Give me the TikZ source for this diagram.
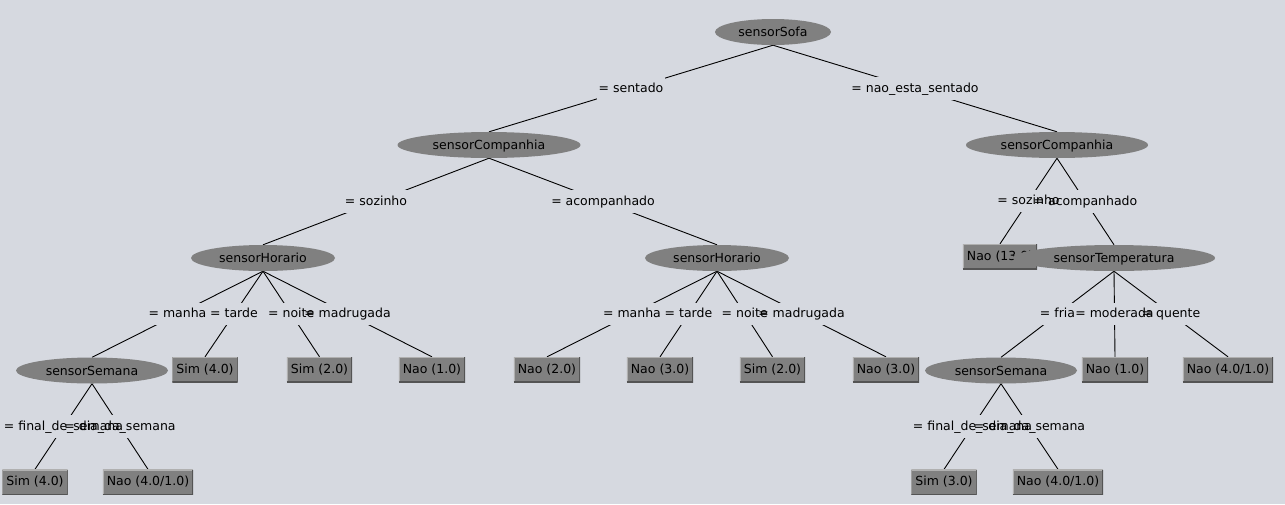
\documentclass[tikz,border=0pt]{standalone}
\usepackage{fontspec}
\setmainfont{DejaVu Sans}
\usetikzlibrary{shapes.geometric,calc}
\definecolor{bgcol}{RGB}{214,217,224}
\definecolor{nodegray}{RGB}{128,128,128}
\definecolor{boxlight}{RGB}{176,176,176}
\definecolor{boxdark}{RGB}{84,84,84}
\pgfdeclarelayer{background}
\pgfsetlayers{background,main}
\begin{document}
\begin{tikzpicture}[x=1pt,y=-1pt,
  every node/.style={font=\fontsize{12.5}{14}\selectfont, text=black},
  ell/.style={ellipse, fill=nodegray, inner sep=0pt, minimum height=26pt, text height=9.5pt, text depth=0pt},
  leafbox/.style={rectangle, fill=nodegray, inner xsep=4pt, inner ysep=0pt, minimum height=25pt,
    text height=9.5pt, text depth=2.5pt,
    path picture={
      \draw[boxlight, line width=2pt] (path picture bounding box.south west) -- (path picture bounding box.north west) -- (path picture bounding box.north east);
      \draw[boxdark, line width=2pt] (path picture bounding box.north east) -- (path picture bounding box.south east) -- (path picture bounding box.south west);
    }},
  edgelab/.style={inner xsep=1pt, inner ysep=0pt, minimum height=22pt, text height=9.5pt, text depth=2.5pt},
  edge/.style={draw=black, line width=0.9pt}
]
\useasboundingbox (0,0) rectangle (1285,504);

% tree nodes
\node[ell, minimum width=116pt] (sofa) at (773,32) {sensorSofa};
\node[ell, minimum width=183pt] (cL) at (489,145) {sensorCompanhia};
\node[ell, minimum width=182pt] (cR) at (1057,145) {sensorCompanhia};
\node[ell, minimum width=144pt] (hL) at (263,258) {sensorHorario};
\node[ell, minimum width=144pt] (hR) at (717,258) {sensorHorario};
\node[leafbox] (n13) at (1000,256.5) {Nao (13.0)};
\node[ell, minimum width=202pt] (temp) at (1114,258) {sensorTemperatura};
\node[ell, minimum width=152pt] (sL) at (92,370.5) {sensorSemana};
\node[leafbox] (b1) at (205,369.5) {Sim (4.0)};
\node[leafbox] (b2) at (319.5,369.5) {Sim (2.0)};
\node[leafbox] (b3) at (432,369.5) {Nao (1.0)};
\node[leafbox] (b4) at (547,369.5) {Nao (2.0)};
\node[leafbox] (b5) at (660,369.5) {Nao (3.0)};
\node[leafbox] (b6) at (772.5,369.5) {Sim (2.0)};
\node[leafbox] (b7) at (886,369.5) {Nao (3.0)};
\node[ell, minimum width=152pt] (sR) at (1001,370.5) {sensorSemana};
\node[leafbox] (b8) at (1115,369.5) {Nao (1.0)};
\node[leafbox] (b9) at (1228,369.5) {Nao (4.0/1.0)};
\node[leafbox] (b10) at (35,482) {Sim (4.0)};
\node[leafbox] (b11) at (148,482) {Nao (4.0/1.0)};
\node[leafbox] (b12) at (944,482) {Sim (3.0)};
\node[leafbox] (b13) at (1058,482) {Nao (4.0/1.0)};

% edge labels at edge midpoints
\foreach \p/\c/\l/\t in {
  sofa/cL/e1/{= sentado},
  sofa/cR/e2/{= nao\_esta\_sentado},
  cL/hL/e3/{= sozinho},
  cL/hR/e4/{= acompanhado},
  cR/n13/e5/{= sozinho},
  cR/temp/e6/{= acompanhado},
  hL/sL/e7/{= manha},
  hL/b1/e8/{= tarde},
  hL/b2/e9/{= noite},
  hL/b3/e10/{= madrugada},
  hR/b4/e11/{= manha},
  hR/b5/e12/{= tarde},
  hR/b6/e13/{= noite},
  hR/b7/e14/{= madrugada},
  temp/sR/e15/{= fria},
  temp/b8/e16/{= moderada},
  temp/b9/e17/{= quente},
  sL/b10/e18/{= final\_de\_semana},
  sL/b11/e19/{= dia\_da\_semana},
  sR/b12/e20/{= final\_de\_semana},
  sR/b13/e21/{= dia\_da\_semana}}
{
  \node[edgelab] (\l) at ($(\p.south)!0.5!(\c.north)$) {\t};
}

\begin{pgfonlayer}{background}
\fill[bgcol] (0,0) rectangle (1285,504);
\foreach \p/\c in {sofa/cL, sofa/cR, cL/hL, cL/hR, cR/n13, cR/temp,
  hL/sL, hL/b1, hL/b2, hL/b3, hR/b4, hR/b5, hR/b6, hR/b7,
  temp/sR, temp/b8, temp/b9, sL/b10, sL/b11, sR/b12, sR/b13}
{
  \draw[edge] (\p.south) -- (\c.north);
}
\foreach \l in {e1,e2,e3,e4,e5,e6,e7,e8,e9,e10,e11,e12,e13,e14,e15,e16,e17,e18,e19,e20,e21}
{
  \fill[bgcol] (\l.south west) rectangle (\l.north east);
}
\end{pgfonlayer}
\end{tikzpicture}
\end{document}
